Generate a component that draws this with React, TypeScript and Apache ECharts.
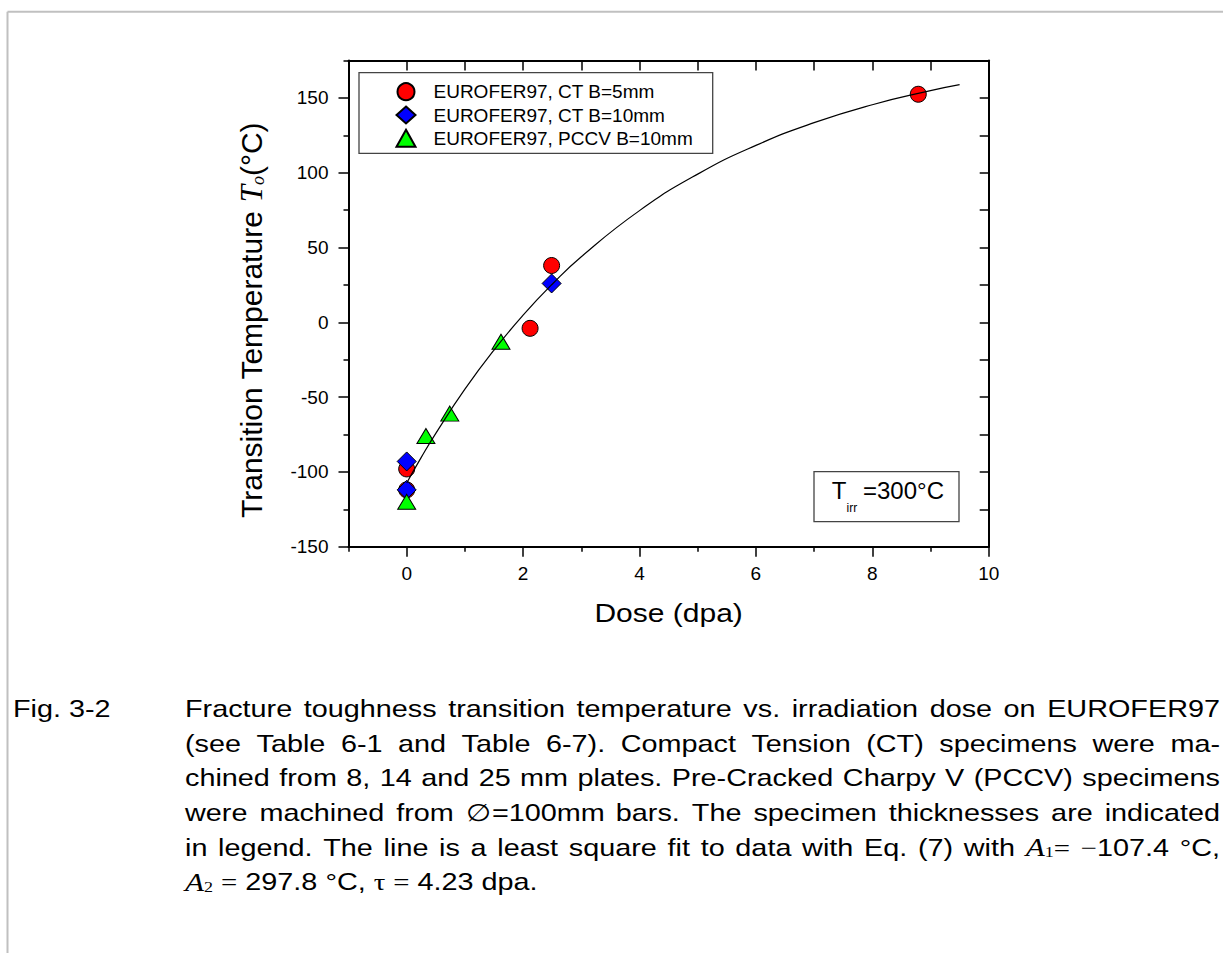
import React, { useEffect, useRef } from 'react';
import * as echarts from 'echarts';

// ---------- data ----------
const seriesNames = ['EUROFER97, CT B=5mm', 'EUROFER97, CT B=10mm', 'EUROFER97, PCCV B=10mm'];
const ct5Dose = [0, 0, 2.12, 2.49, 8.79];
const ct5T = [-98, -112, -4, 38, 152.5];
const ct10Dose = [0, 0, 2.49];
const ct10T = [-93, -112, 26];
const pccvDose = [0, 0.33, 0.74, 1.62];
const pccvT = [-120, -76, -61, -13];
const fitDose = [0, 0.25, 0.5, 1, 1.5, 2, 2.5, 3, 4, 5, 6, 7, 8, 9, 9.5];
const fitT = [-107.4, -90.3, -74.2, -44.7, -18.5, 4.8, 25.5, 43.9, 74.7, 99.1, 118.3, 133.5, 145.5, 154.9, 158.9];

const xMajorTicks = [0, 2, 4, 6, 8, 10];
const xMinorTicks = [-1, 1, 3, 5, 7, 9];
const yMajorTicks = [-150, -100, -50, 0, 50, 100, 150];
const yMinorTicks = [-125, -75, -25, 25, 75, 125, 175];

const xTitle = 'Dose (dpa)';
const yTitleMain = 'Transition Temperature ';
const yTitleSym = 'T';
const yTitleSub = 'o';
const yTitleUnit = '(°C)';
const tirrMain = 'T';
const tirrSub = 'irr';
const tirrValue = '=300°C';
const figLabel = 'Fig. 3-2';
const captionText = [
  'Fracture toughness transition temperature vs. irradiation dose on EUROFER97',
  '(see Table 6-1 and Table 6-7). Compact Tension (CT) specimens were ma-',
  'chined from 8, 14 and 25 mm plates. Pre-Cracked Charpy V (PCCV) specimens',
  'were machined from \u2205=100mm bars. The specimen thicknesses are indicated',
  'in legend. The line is a least square fit to data with Eq. (7) with',
];

const SANS = 'Arial, "Liberation Sans", Helvetica, sans-serif';
const SERIF = '"Times New Roman", "Liberation Serif", Times, serif';

type Seg = { t: string; size: number; fam: string; ital?: boolean; dy?: number };

export default function App() {
  const ref = useRef<HTMLDivElement>(null);

  useEffect(() => {
    if (!ref.current) return;
    const chart = echarts.init(ref.current, null, { renderer: 'svg' });

    const mctx = document.createElement('canvas').getContext('2d') as CanvasRenderingContext2D;
    const measure = (s: Seg) => {
      mctx.font = `${s.ital ? 'italic' : 'normal'} normal ${s.size}px ${s.fam}`;
      return mctx.measureText(s.t).width;
    };
    const textEl = (s: Seg, x: number, y: number, sx: number, align = 'left') => ({
      type: 'text',
      x,
      y: y + (s.dy || 0),
      scaleX: sx,
      silent: true,
      style: {
        text: s.t,
        fontSize: s.size,
        fontFamily: s.fam,
        fontStyle: s.ital ? 'italic' : 'normal',
        fill: '#000',
        align,
        verticalAlign: 'middle',
      },
    });

    // lay out words (each an array of segments) on one line
    const buildLine = (words: Seg[][], x0: number, y: number, width: number, justify: boolean, sx: number) => {
      const els: any[] = [];
      const wWidths = words.map((w) => w.reduce((a, s) => a + measure(s) * sx, 0));
      const total = wWidths.reduce((a, b) => a + b, 0);
      const natural = measure({ t: ' ', size: 24, fam: SANS }) * sx;
      const gap = justify && words.length > 1 ? (width - total) / (words.length - 1) : natural;
      let x = x0;
      words.forEach((w) => {
        w.forEach((s) => {
          els.push(textEl(s, x, y, sx));
          x += measure(s) * sx;
        });
        x += gap;
      });
      return els;
    };

    const CS = 24; // caption font size
    const SX = 1.2; // horizontal stretch of the reference text
    const sansW = (str: string): Seg[][] => str.split(' ').map((t) => [{ t, size: CS, fam: SANS }]);
    const capLines: { words: Seg[][]; justify: boolean }[] = [
      { words: sansW(captionText[0]), justify: true },
      { words: sansW(captionText[1]), justify: true },
      { words: sansW(captionText[2]), justify: true },
      { words: sansW(captionText[3]), justify: true },
      {
        words: [
          ...sansW(captionText[4]),
          [
            { t: 'A', size: 26, fam: SERIF, ital: true },
            { t: '1', size: 15, fam: SERIF, dy: 5 },
            { t: '=', size: 24, fam: SERIF },
          ],
          [
            { t: '\u2212', size: 24, fam: SERIF },
            { t: '107.4', size: CS, fam: SANS },
          ],
          [{ t: '°C,', size: CS, fam: SANS }],
        ],
        justify: true,
      },
      {
        words: [
          [
            { t: 'A', size: 26, fam: SERIF, ital: true },
            { t: '2', size: 15, fam: SERIF, dy: 5 },
          ],
          [{ t: '=', size: 24, fam: SERIF }],
          [{ t: '297.8', size: CS, fam: SANS }],
          [{ t: '°C,', size: CS, fam: SANS }],
          [{ t: '\u03c4', size: 24, fam: SERIF }],
          [{ t: '=', size: 24, fam: SERIF }],
          [{ t: '4.23', size: CS, fam: SANS }],
          [{ t: 'dpa.', size: CS, fam: SANS }],
        ],
        justify: false,
      },
    ];
    const capY0 = 709;
    const capLH = 34.6;
    const capX0 = 185;
    const capW = 1220 - capX0;
    const captionEls: any[] = [];
    captionEls.push(textEl({ t: figLabel, size: CS, fam: SANS }, 13, capY0, SX));
    capLines.forEach((ln, i) => {
      captionEls.push(...buildLine(ln.words, capX0, capY0 + i * capLH, capW, ln.justify, SX));
    });

    // y-axis title (rotated)
    const ySegs: Seg[] = [
      { t: yTitleMain, size: 30, fam: SANS },
      { t: yTitleSym, size: 31, fam: SERIF, ital: true },
      { t: yTitleSub, size: 18, fam: SERIF, ital: true, dy: 7 },
      { t: yTitleUnit, size: 30, fam: SANS },
    ];
    const yTitleEls: any[] = [];
    let yx = 0;
    ySegs.forEach((s) => {
      yTitleEls.push(textEl(s, yx, 0, 1));
      yx += measure(s);
    });

    const axisLine = { show: true, onZero: false, lineStyle: { color: '#000', width: 2 } };
    const tickLine = { color: '#000', width: 1.5 };
    const labelStyle = { fontSize: 19, fontFamily: SANS, color: '#000' };

    const option: any = {
      animation: false,
      backgroundColor: '#fff',
      grid: { left: 348.5, top: 60.6, width: 640.2, height: 486.1 },
      xAxis: [
        {
          type: 'value', position: 'bottom', min: -1, max: 10,
          axisLine,
          axisTick: { show: true, inside: false, length: 10, customValues: xMajorTicks, lineStyle: tickLine },
          axisLabel: { ...labelStyle, margin: 17, customValues: xMajorTicks },
          splitLine: { show: false },
        },
        {
          type: 'value', position: 'bottom', min: -1, max: 10,
          axisLine: { show: false, onZero: false },
          axisTick: { show: true, inside: false, length: 5, customValues: xMinorTicks, lineStyle: tickLine },
          axisLabel: { show: false },
          splitLine: { show: false },
        },
        {
          type: 'value', position: 'top', min: -1, max: 10, interval: 1,
          axisLine,
          axisTick: { show: true, inside: true, length: 10, lineStyle: tickLine },
          axisLabel: { show: false },
          splitLine: { show: false },
        },
      ],
      yAxis: [
        {
          type: 'value', position: 'left', min: -150, max: 175,
          axisLine,
          axisTick: { show: true, inside: false, length: 10, customValues: yMajorTicks, lineStyle: tickLine },
          axisLabel: { ...labelStyle, margin: 20, customValues: yMajorTicks },
          splitLine: { show: false },
        },
        {
          type: 'value', position: 'left', min: -150, max: 175,
          axisLine: { show: false, onZero: false },
          axisTick: { show: true, inside: false, length: 5, customValues: yMinorTicks, lineStyle: tickLine },
          axisLabel: { show: false },
          splitLine: { show: false },
        },
        {
          type: 'value', position: 'right', min: -150, max: 175, interval: 25,
          axisLine,
          axisTick: { show: true, inside: true, length: 9, lineStyle: tickLine },
          axisLabel: { show: false },
          splitLine: { show: false },
        },
      ],
      legend: {
        orient: 'vertical',
        left: 395.5,
        top: 81.7,
        padding: 0,
        itemWidth: 19,
        itemHeight: 17,
        itemGap: 3.3,
        selectedMode: false,
        data: seriesNames,
        textStyle: { fontSize: 19, fontFamily: SANS, color: '#000', lineHeight: 20, padding: [0, 0, 0, 13] },
      },
      series: [
        {
          name: seriesNames[0], type: 'scatter', symbol: 'circle', symbolSize: 16,
          itemStyle: { color: '#ff0000', borderColor: '#000', borderWidth: 1, opacity: 1 },
          data: ct5Dose.map((d, i) => [d, ct5T[i]]),
        },
        {
          name: seriesNames[1], type: 'scatter', symbol: 'diamond', symbolSize: 19,
          itemStyle: { color: '#0000ff', borderColor: '#000', borderWidth: 1, opacity: 1 },
          data: ct10Dose.map((d, i) => [d, ct10T[i]]),
        },
        {
          name: seriesNames[2], type: 'scatter', symbol: 'triangle', symbolSize: [18, 15],
          itemStyle: { color: '#00ff00', borderColor: '#000', borderWidth: 1, opacity: 1 },
          data: pccvDose.map((d, i) => [d, pccvT[i]]),
        },
        {
          name: 'fit', type: 'line', symbol: 'none', showSymbol: false, smooth: true, silent: true,
          lineStyle: { color: '#000', width: 1.2 },
          data: fitDose.map((d, i) => [d, fitT[i]]),
          z: 3,
        },
      ],
      graphic: [
        // page frame
        { type: 'line', silent: true, shape: { x1: 7.5, y1: 11.7, x2: 1223, y2: 11.7 }, style: { stroke: '#c0c0c0', lineWidth: 2 } },
        { type: 'line', silent: true, shape: { x1: 7.5, y1: 11.7, x2: 7.5, y2: 953 }, style: { stroke: '#c0c0c0', lineWidth: 2 } },
        // legend frame
        { type: 'rect', silent: true, shape: { x: 359, y: 72.7, width: 353.7, height: 80.6 }, style: { fill: 'none', stroke: '#444', lineWidth: 1.3 } },
        // T_irr box
        { type: 'rect', silent: true, shape: { x: 814, y: 471.7, width: 145, height: 50 }, style: { fill: 'none', stroke: '#444', lineWidth: 1.3 } },
        textEl({ t: tirrMain, size: 24, fam: SANS }, 831.7, 490, 1),
        textEl({ t: tirrSub, size: 12, fam: SANS }, 846.5, 507.5, 1),
        textEl({ t: tirrValue, size: 24, fam: SANS }, 863, 490, 1),
        // axis titles
        textEl({ t: xTitle, size: 25, fam: SANS }, 668.6, 613, 1.2, 'center'),
        { type: 'group', x: 251, y: 518, rotation: Math.PI / 2, children: yTitleEls },
        // caption
        ...captionEls,
      ],
    };

    chart.setOption(option);
    return () => chart.dispose();
  }, []);

  return (
    <div
      ref={ref}
      style={{ position: 'absolute', left: 0, top: 0, width: 1223, height: 953, background: '#fff' }}
    />
  );
}
